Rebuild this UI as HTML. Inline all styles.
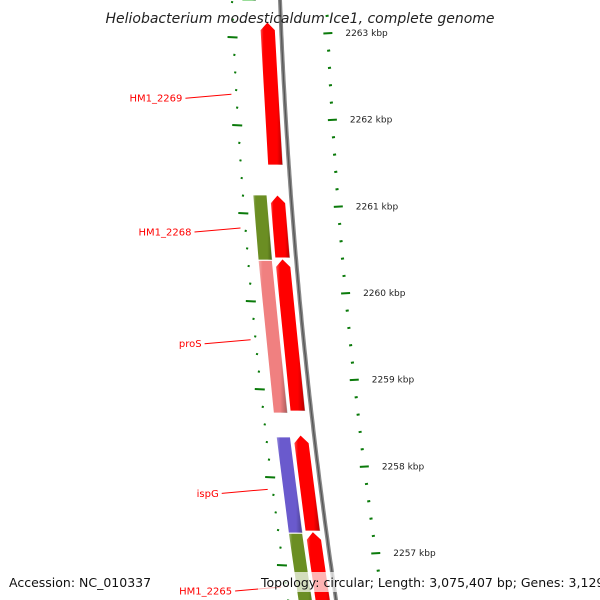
<!DOCTYPE html>
<html><head><meta charset="utf-8">
<style>
html,body{margin:0;padding:0;background:#fff;}
svg{display:block;font-family:"DejaVu Sans","Liberation Sans",sans-serif;}
</style></head>
<body>
<svg id="map" width="600" height="600" viewBox="0 0 600 600" xmlns="http://www.w3.org/2000/svg">
<defs>
<linearGradient id="shade" x1="0" x2="1" y1="0" y2="0">
<stop offset="0" stop-color="#fff" stop-opacity="0.35"/>
<stop offset="0.15" stop-color="#fff" stop-opacity="0"/>
<stop offset="0.75" stop-color="#000" stop-opacity="0"/>
<stop offset="1" stop-color="#000" stop-opacity="0.3"/>
</linearGradient>
<linearGradient id="bbg" x1="0" x2="1"><stop offset="0" stop-color="#bbb"/><stop offset="0.5" stop-color="#777"/><stop offset="1" stop-color="#aaa"/></linearGradient>
</defs>
<g id="layer"></g>
<text x="300" y="23" text-anchor="middle" font-size="14" font-style="italic" fill="#222">Heliobacterium modesticaldum Ice1, complete genome</text>
<text x="9" y="587" font-size="12.5" fill="#111">Accession: NC_010337</text>
<rect x="258" y="572" width="334" height="20" fill="#fff" fill-opacity="0.7"/>
<text x="261" y="587" font-size="12.5" fill="#111">Topology: circular; Length: 3,075,407 bp; Genes: 3,129</text>
</svg>
<script>
// data
const fwdStarts = [2263.17, 2261.205, 2260.48, 2258.477, 2257.38];
const fwdEnds   = [2261.545, 2260.49, 2258.75, 2257.386, 2256.4];
const revStarts = [2264.0, 2261.205, 2260.46, 2258.455, 2257.36];
const revEnds   = [2263.41, 2260.466, 2258.727, 2257.364, 2256.4];
const revColors = ["#33bb33", "#6b8e23", "#f08080", "#6a5acd", "#6b8e23"];
const labelNames = ["HM1_2269", "HM1_2268", "proS", "ispG", "HM1_2265"];
const labelKbp = [2262.35, 2260.83, 2259.56, 2257.86, 2256.75];
const majorTicks = [2263, 2262, 2261, 2260, 2259, 2258, 2257];

const NS = "http://www.w3.org/2000/svg";
const layer = document.getElementById("layer");
function bx(y){ return 280 + 0.0382*y + 0.000092*y*y; }
function yGene(k){ return 37 + (2263 - k) * 88; }
function yOuter(k){ return 33 + (2263 - k) * 86.67; }
function mk(tag, attrs){ const e = document.createElementNS(NS, tag); for (const a in attrs) e.setAttribute(a, attrs[a]); layer.appendChild(e); return e; }
function pt(y, d){ return (bx(y) + d).toFixed(1) + "," + y.toFixed(1); }

// backbone
let bpts = [];
for (let y = -5; y <= 605; y += 5) bpts.push(pt(y, 0));
const bb = mk("polyline", {points: bpts.join(" "), fill: "none", stroke: "#888", "stroke-width": 4});


const bb2 = mk("polyline", {points: bpts.join(" "), fill: "none", stroke: "#555", "stroke-width": 1.2});



// tick rings
for (let k = 2264; k >= 2256.4; k -= 0.2) {
  const kk = Math.round(k * 10) / 10;
  const major = Math.abs(kk - Math.round(kk)) < 0.01;
  const yi = yGene(kk);
  if (yi > -5 && yi < 605) {
    const t = mk("line", {x1: bx(yi) - (major ? 54 : 49), y1: yi, x2: bx(yi) - (major ? 44 : 47), y2: yi + 0.5, stroke: "#0a7a0a", "stroke-width": 2});
    
    
  }
  const yo = yOuter(kk);
  if (yo > -5 && yo < 575) {
    const t2 = mk("line", {x1: bx(yo) + (major ? 42 : 45), y1: yo + 0.5, x2: bx(yo) + (major ? 51 : 48), y2: yo, stroke: "#0a7a0a", "stroke-width": 2});
    
    
  }
}
majorTicks.forEach(k => {
  const yo = yOuter(k);
  const tx = mk("text", {x: bx(yo) + 64, y: yo + 3, "font-size": 9, fill: "#222"});
  tx.textContent = k + " kbp";
  
  
});

function gene(ys, ye, d0, d1, color, arrowUp, name){
  const y1 = Math.min(ys, ye), y2 = Math.max(ys, ye);
  const a = arrowUp ? 8 : 0;
  const dm = (d0 + d1) / 2;
  const pts = [pt(y1 + a, d0), pt(y1, dm), pt(y1 + a, d1), pt(y2, d1), pt(y2, d0)];
  const g = mk("polygon", {points: pts.join(" "), fill: color, stroke: "#fff", "stroke-width": 0.8});
  
  
  const s = mk("polygon", {points: pts.join(" "), fill: "url(#shade)"});
  
  
}
for (let i = 0; i < fwdStarts.length; i++) {
  gene(yGene(fwdStarts[i]), yGene(fwdEnds[i]), -21, -6, "#ff0000", true, "forward-gene-" + (i + 1));
}
for (let i = 0; i < revStarts.length; i++) {
  gene(yGene(revStarts[i]), yGene(revEnds[i]), -38, -24, revColors[i], false, "reverse-gene-" + (i + 1));
}
// labels
for (let i = 0; i < labelNames.length; i++) {
  const y = yGene(labelKbp[i]);
  const ex = bx(y) - 53;
  const ln = mk("line", {x1: ex - 46, y1: y + 4, x2: ex, y2: y, stroke: "#ff0000", "stroke-width": 1});
  
  
  const t = mk("text", {x: ex - 49, y: y + 7.5, "text-anchor": "end", "font-size": 10, fill: "#ff0000"});
  t.textContent = labelNames[i];
  
  
}
</script>
</body></html>
